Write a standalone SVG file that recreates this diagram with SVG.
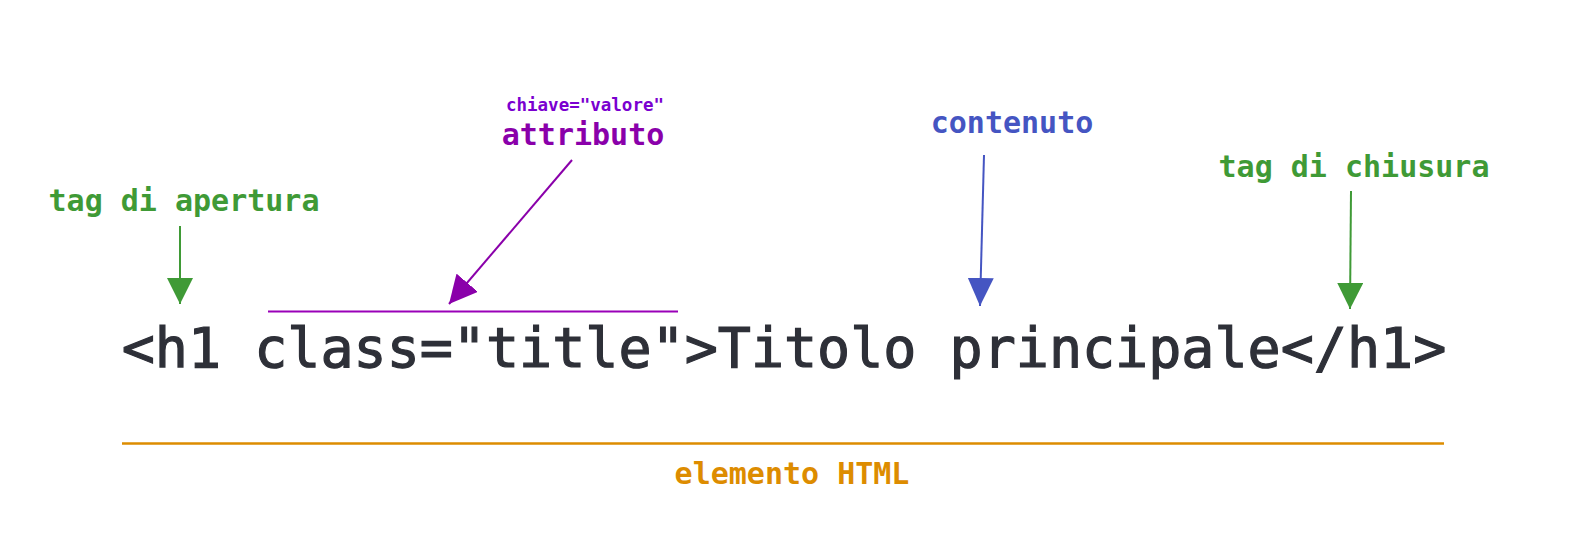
<svg xmlns="http://www.w3.org/2000/svg" width="1574" height="557" viewBox="0 0 1574 557">
<style>
text{font-family:"DejaVu Sans Mono","Liberation Mono",monospace;text-anchor:middle}
.lbl{font-size:30px;font-weight:bold}
.green{fill:#3f9a36}
.code{font-size:55px;fill:#2e3038;stroke:#2e3038;stroke-width:1.2px}
</style>
<defs>
<marker id="mg" markerUnits="userSpaceOnUse" viewBox="0 0 26 26" refX="26" refY="13" markerWidth="26" markerHeight="26" orient="auto"><path d="M0,0 L26,13 L0,26 z" fill="#3f9a36"/></marker>
<marker id="mp" markerUnits="userSpaceOnUse" viewBox="0 0 28 28" refX="28" refY="14" markerWidth="28" markerHeight="28" orient="auto"><path d="M0,0 L28,14 L0,28 z" fill="#8a00aa"/></marker>
<marker id="mb" markerUnits="userSpaceOnUse" viewBox="0 0 28 26" refX="28" refY="13" markerWidth="28" markerHeight="26" orient="auto"><path d="M0,0 L28,13 L0,26 z" fill="#4555c2"/></marker>
</defs>
<rect width="1574" height="557" fill="#ffffff"/>
<g id="code"><text class="code" x="784" y="367">&lt;h1 class="title"&gt;Titolo principale&lt;/h1&gt;</text></g>
<g id="tag-apertura"><text class="lbl green" x="184" y="211">tag di apertura</text></g>
<g id="attributo">
<text x="585" y="111" style="font-size:17.5px;font-weight:bold;fill:#7a00d0">chiave="valore"</text>
<text class="lbl" x="583" y="145" style="fill:#8a00aa">attributo</text>
</g>
<g id="contenuto"><text class="lbl" x="1012" y="133" style="fill:#4555c2">contenuto</text></g>
<g id="tag-chiusura"><text class="lbl green" x="1354" y="177">tag di chiusura</text></g>
<g id="elemento"><text class="lbl" x="792" y="484" style="fill:#dd8c00">elemento HTML</text></g>
<g id="connectors" fill="none">
<line x1="180" y1="226" x2="180" y2="304" stroke="#3f9a36" stroke-width="2" marker-end="url(#mg)"/>
<line x1="572" y1="160" x2="449" y2="304" stroke="#8a00aa" stroke-width="2" marker-end="url(#mp)"/>
<line x1="984" y1="155" x2="980" y2="306" stroke="#4555c2" stroke-width="2" marker-end="url(#mb)"/>
<line x1="1351" y1="191" x2="1350" y2="309" stroke="#3f9a36" stroke-width="2" marker-end="url(#mg)"/>
<line x1="268" y1="311.5" x2="678" y2="311.5" stroke="#9a00b8" stroke-width="2"/>
<line x1="122" y1="443.5" x2="1444" y2="443.5" stroke="#dd8c00" stroke-width="2.5"/>
</g>
</svg>
